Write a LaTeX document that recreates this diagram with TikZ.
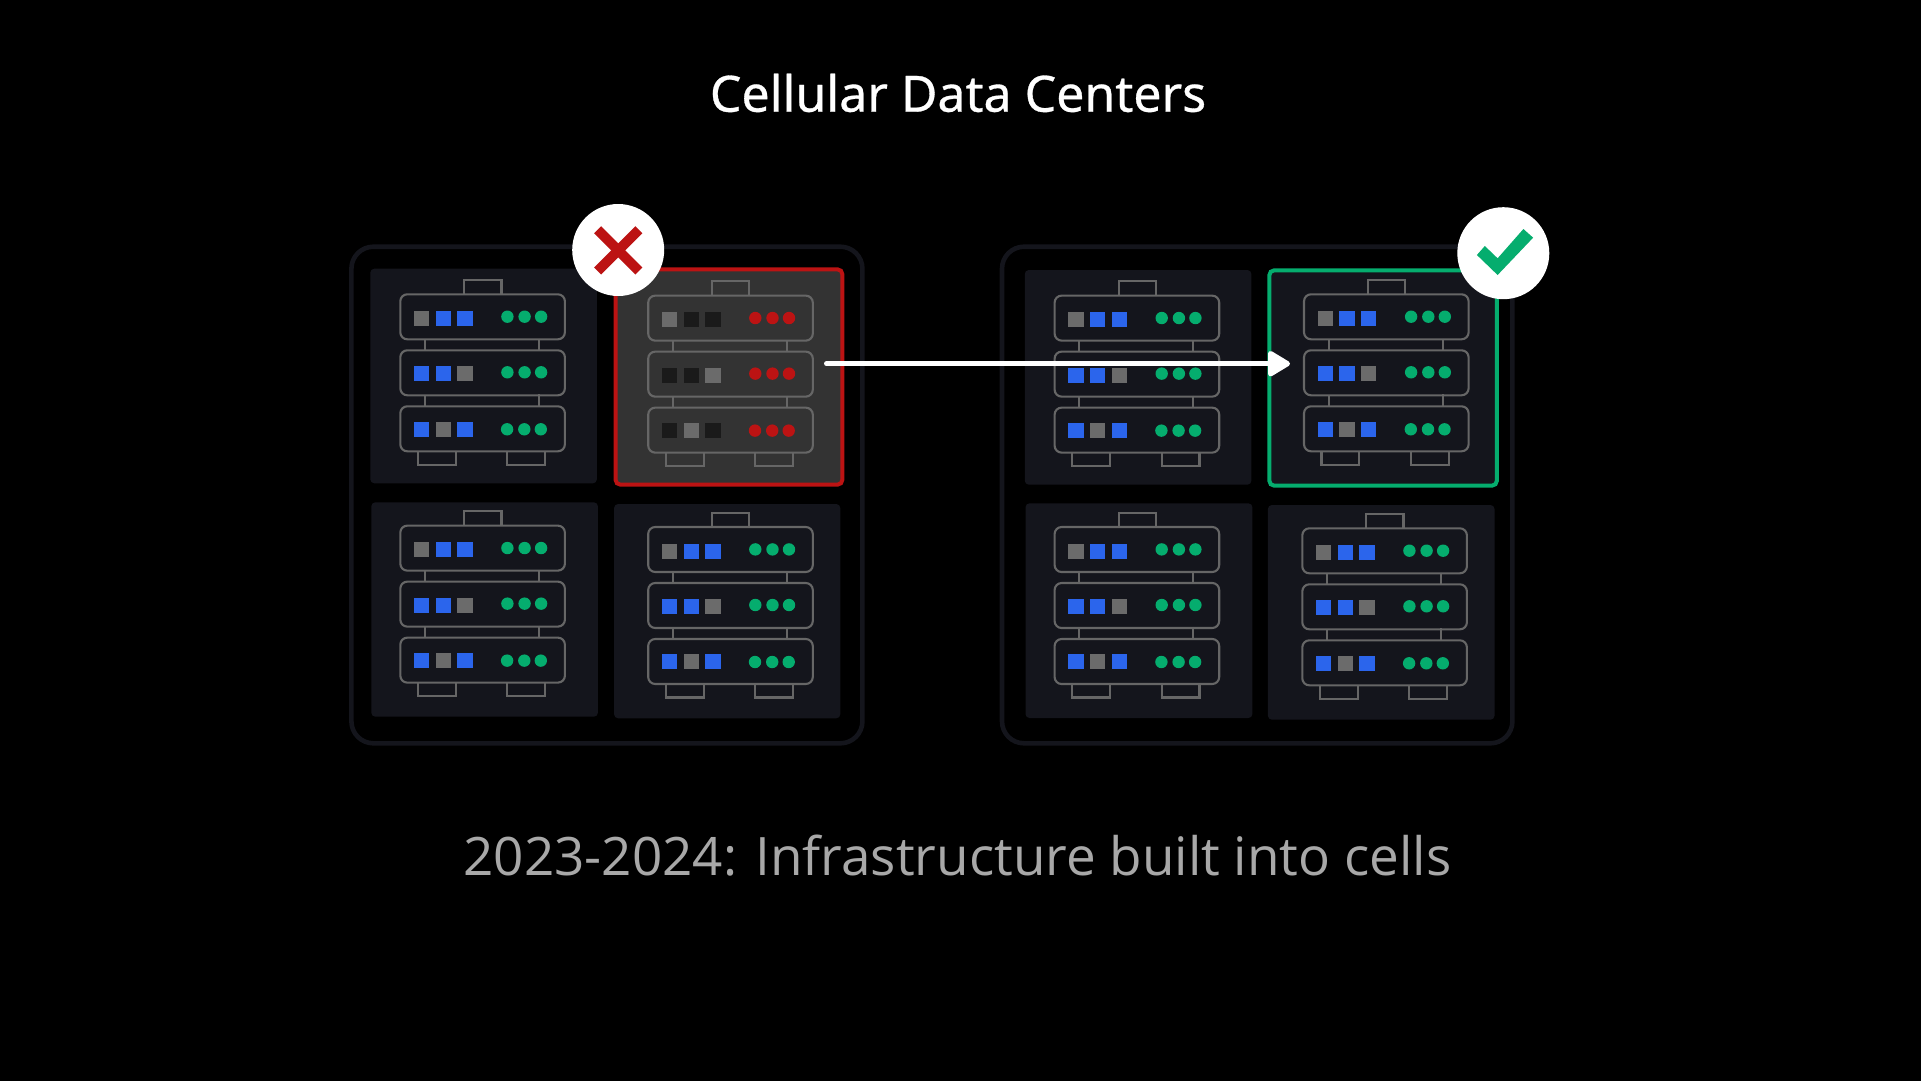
\documentclass[tikz,border=0pt]{standalone}
\usepackage{fontspec}
\usetikzlibrary{arrows.meta}
\setmainfont{Open Sans}
\newfontfamily\titlefont{Noto Sans}
\definecolor{panelbg}{HTML}{14151C}
\definecolor{rackline}{HTML}{666666}
\definecolor{onblue}{HTML}{2B65EC}
\definecolor{okgreen}{HTML}{05AD6E}
\definecolor{badred}{HTML}{BC1313}
\definecolor{offgrey}{HTML}{6B6B6B}
\definecolor{faildark}{HTML}{1A1A1A}
\definecolor{failbg}{HTML}{333333}
\definecolor{subtitle}{HTML}{A8A8A8}
\tikzset{
  x=1pt,y=-1pt,
  frame/.style={draw=panelbg,line width=4.6pt,rounded corners=22pt},
  panel/.style={fill=panelbg,rounded corners=4pt},
  racklinestyle/.style={draw=rackline,line width=2.1pt},
  badge/.style={circle,fill=white,minimum size=92pt,inner sep=0pt},
  sq/.style={minimum size=15.2pt,inner sep=0pt}
}
% #1 x shift, #2 y shift, #3 lit square colour, #4 dot colour
\newcommand{\serverrack}[4]{%
  \begin{scope}[shift={(#1,#2)}]
    \draw[racklinestyle] (464.3,294.3) -- (464.3,280) -- (501.5,280) -- (501.5,294.3);
    \foreach \top in {294.3,350.3,406.3}{
      \draw[racklinestyle,rounded corners=7pt] (400.3,\top) rectangle (564.9,\top+45);
    }
    \foreach \top in {339.3,395}{
      \draw[racklinestyle] (425,\top) -- (425,\top+11.2);
      \draw[racklinestyle] (539,\top-0.8) -- (539,\top+11.2);
    }
    \draw[racklinestyle] (417.8,451) -- (417.8,464.8) -- (455.7,464.8) -- (455.7,451);
    \draw[racklinestyle] (507.4,451) -- (507.4,464.8) -- (545.2,464.8) -- (545.2,451);
    \fill[offgrey] (414,311) rectangle +(15.2,15);
    \fill[#3] (435.7,311) rectangle +(15.2,15);
    \fill[#3] (457.4,311) rectangle +(15.2,15);
    \fill[#3] (414,366.3) rectangle +(15.2,15);
    \fill[#3] (435.7,366.3) rectangle +(15.2,15);
    \fill[offgrey] (457.4,366.3) rectangle +(15.2,15);
    \fill[#3] (414,421.7) rectangle +(15.2,15);
    \fill[offgrey] (435.7,421.7) rectangle +(15.2,15);
    \fill[#3] (457.4,421.7) rectangle +(15.2,15);
    \foreach \dx in {507.4,524.6,541.1}{
      \fill[#4] (\dx,316.7) circle (6.2);
      \fill[#4] (\dx,372.3) circle (6.2);
      \fill[#4] (\dx-0.3,429.3) circle (6.2);
    }
  \end{scope}}
\begin{document}
\begin{tikzpicture}
\useasboundingbox (0,0) rectangle (1921,1081);
\fill[black] (0,0) rectangle (1921,1081);
% titles
\node[anchor=base,text=white,inner sep=0pt] (title) at (958,111.7)
  {\titlefont\fontsize{50}{60}\selectfont\addfontfeature{FakeBold=0.6}Cellular Data Centers};
\node[anchor=base,text=subtitle,inner sep=0pt] (caption) at (957.4,875)
  {\fontsize{53}{64}\selectfont 2023-2024: Infrastructure built into cells};
% frames
\draw[frame] (351.4,246.7) rectangle (862.4,743.3);
\draw[frame] (1002,246.7) rectangle (1512.4,743.3);
% panels
\fill[panel] (370.3,268.7) rectangle (596.9,483.3);
\fill[panel] (371.3,502.3) rectangle (597.9,716.7);
\fill[panel] (614.1,504) rectangle (840.3,718.3);
\fill[panel] (1024.8,270) rectangle (1251.4,484.7);
\fill[panel] (1025.5,503.3) rectangle (1252.4,718);
\fill[panel] (1267.9,505) rectangle (1494.5,719.7);
\draw[fill=failbg,draw=badred,line width=4pt,rounded corners=5pt] (615.5,269.3) rectangle (842.4,484.7);
\draw[fill=panelbg,draw=okgreen,line width=4pt,rounded corners=5pt] (1269.3,270.3) rectangle (1496.9,485.7);
% racks
\serverrack{0}{0}{onblue}{okgreen}
\serverrack{247.9}{1.33}{faildark}{badred}
\serverrack{0}{231.33}{onblue}{okgreen}
\serverrack{247.9}{232.7}{onblue}{okgreen}
\serverrack{654.3}{1.33}{onblue}{okgreen}
\serverrack{903.7}{0}{onblue}{okgreen}
\serverrack{654.3}{232.7}{onblue}{okgreen}
\serverrack{902}{234}{onblue}{okgreen}
% arrow
\coordinate (movestart) at (826.5,363.7);
\coordinate (moveend) at (1290,363.7);
\draw[white,line width=5pt,line cap=round,-{Triangle[length=24.5pt,width=28pt,round=false]}] (movestart) -- (moveend);
% badges
\node[badge] (failbadge) at (618.2,250) {};
\draw[badred,line width=10pt] (597.6,229.7) -- (638.9,271);
\draw[badred,line width=10pt] (638.9,229.7) -- (597.6,271);
\node[badge] (okbadge) at (1503.3,253.2) {};
\fill[okgreen] (1476.9,255) -- (1484.8,246) -- (1497.6,258.3) -- (1523.4,229) -- (1533.1,237.7) -- (1497.6,275) -- cycle;
\end{tikzpicture}
\end{document}
